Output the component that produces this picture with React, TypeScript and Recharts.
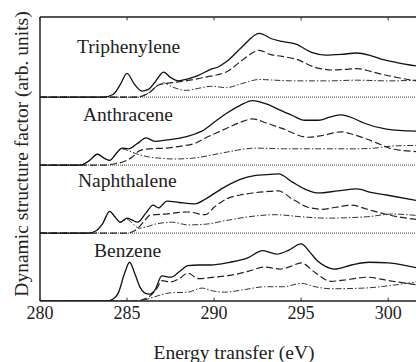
import React from 'react';
import { LineChart, Line, XAxis, YAxis, ReferenceLine } from 'recharts';

// energy (eV), intensity (arb. units) per panel; panel offset added later
const triphSolid = [
  [280, 0], [283.6, 0], [284.2, 0.04], [284.6, 0.18], [285.0, 0.35], [285.4, 0.2], [285.85, 0.09], [286.2, 0.11],
  [286.6, 0.22], [287.1, 0.37], [287.5, 0.29], [287.95, 0.24], [288.5, 0.27], [289.1, 0.32], [289.8, 0.41],
  [290.2, 0.44], [290.7, 0.52], [291.6, 0.74], [292.6, 0.94], [293.3, 0.86], [293.9, 0.82], [294.7, 0.78],
  [295.6, 0.66], [296.4, 0.62], [297.3, 0.63], [298.2, 0.65], [299.0, 0.61], [299.6, 0.56], [300.5, 0.51], [301.6, 0.46],
];
const triphDashed = [
  [280, 0], [285.5, 0], [285.9, 0.02], [286.3, 0.07], [286.8, 0.18], [287.2, 0.2], [287.8, 0.22], [288.6, 0.25],
  [289.6, 0.3], [290.2, 0.33], [290.7, 0.37], [291.6, 0.54], [292.6, 0.69], [293.2, 0.63], [293.9, 0.6],
  [294.7, 0.56], [295.8, 0.44], [296.8, 0.4], [297.5, 0.41], [298.2, 0.42], [299.0, 0.38], [299.6, 0.34],
  [300.5, 0.29], [301.6, 0.24],
];
const triphDashDot = [
  [280, 0], [285.6, 0], [286.1, 0.04], [286.6, 0.14], [287.1, 0.21], [287.6, 0.15], [288.4, 0.1], [289.1, 0.13],
  [289.8, 0.16], [290.3, 0.15], [290.7, 0.14], [291.6, 0.2], [292.6, 0.26], [293.5, 0.25], [294.5, 0.24],
  [296.5, 0.24], [298.2, 0.25], [300.0, 0.24], [301.6, 0.25],
];

const anthSolid = [
  [280, 0], [282.3, 0], [282.8, 0.06], [283.3, 0.16], [283.7, 0.1], [284.0, 0.07], [284.4, 0.18], [284.7, 0.25],
  [285.1, 0.24], [285.6, 0.32], [286.1, 0.4], [286.6, 0.35], [287.3, 0.37], [288.1, 0.4], [288.7, 0.44],
  [289.3, 0.5], [290.1, 0.65], [290.7, 0.76], [291.5, 0.88], [292.2, 0.95], [293.0, 0.9], [293.7, 0.82],
  [294.5, 0.73], [295.2, 0.66], [296.0, 0.66], [296.7, 0.71], [297.3, 0.74], [298.0, 0.69], [298.6, 0.62],
  [299.9, 0.53], [301.6, 0.5],
];
const anthDashed = [
  [280, 0], [283.5, 0], [284.3, 0.02], [284.9, 0.06], [285.3, 0.12], [285.7, 0.21], [286.25, 0.24], [287.2, 0.25],
  [288.1, 0.28], [288.9, 0.32], [289.5, 0.4], [290.1, 0.47], [290.7, 0.54], [291.5, 0.63], [292.2, 0.68],
  [293.0, 0.62], [293.9, 0.54], [295.4, 0.41], [296.3, 0.44], [297.3, 0.49], [298.0, 0.45], [298.8, 0.38],
  [299.6, 0.3], [300.2, 0.24], [301.6, 0.2],
];
const anthDashDot = [
  [280, 0], [282.3, 0], [282.8, 0.06], [283.3, 0.16], [283.7, 0.1], [284.0, 0.07], [284.4, 0.17], [284.7, 0.24],
  [285.1, 0.21], [285.5, 0.17], [286.25, 0.12], [287.0, 0.1], [287.6, 0.09], [288.7, 0.1], [289.7, 0.14],
  [290.7, 0.19], [292.4, 0.25], [294.0, 0.24], [296.0, 0.24], [298.0, 0.24], [299.2, 0.25], [300.2, 0.28], [301.6, 0.29],
];

const naphSolid = [
  [280, 0], [282.8, 0], [283.2, 0.03], [283.6, 0.14], [284.0, 0.32], [284.3, 0.24], [284.6, 0.16], [285.0, 0.22],
  [285.3, 0.19], [285.6, 0.16], [286.1, 0.3], [286.5, 0.41], [286.8, 0.37], [287.3, 0.47], [288.0, 0.45],
  [288.9, 0.43], [289.5, 0.5], [290.0, 0.58], [290.7, 0.69], [291.5, 0.79], [292.4, 0.85], [293.0, 0.86],
  [293.7, 0.87], [294.5, 0.75], [295.2, 0.65], [296.0, 0.59], [297.1, 0.62], [298.2, 0.65], [299.0, 0.6],
  [299.9, 0.56], [301.6, 0.48],
];
const naphDashed = [
  [280, 0], [285.0, 0], [285.4, 0.03], [285.7, 0.09], [286.0, 0.18], [286.3, 0.26], [287.2, 0.28], [288.5, 0.31],
  [289.5, 0.27], [290.0, 0.38], [290.7, 0.5], [291.5, 0.56], [292.2, 0.59], [293.0, 0.61], [293.7, 0.62],
  [294.5, 0.5], [295.4, 0.38], [296.2, 0.35], [297.0, 0.38], [297.9, 0.41], [298.8, 0.35], [299.8, 0.28], [301.6, 0.2],
];
const naphDashDot = [
  [280, 0], [282.8, 0], [283.2, 0.03], [283.6, 0.14], [284.0, 0.32], [284.3, 0.24], [284.6, 0.16], [285.0, 0.2],
  [285.4, 0.12], [285.7, 0.07], [286.1, 0.09], [286.6, 0.13], [287.6, 0.16], [288.5, 0.12], [289.5, 0.13],
  [290.6, 0.18], [292.0, 0.24], [293.5, 0.27], [295.0, 0.24], [296.4, 0.22], [298.8, 0.24], [300.2, 0.28], [301.6, 0.26],
];

const benzSolid = [
  [280, 0], [283.8, 0], [284.2, 0.03], [284.5, 0.12], [284.85, 0.4], [285.15, 0.57], [285.45, 0.4], [285.75, 0.2],
  [286.0, 0.12], [286.3, 0.1], [286.6, 0.16], [287.0, 0.37], [287.5, 0.35], [288.0, 0.43], [288.5, 0.52],
  [289.1, 0.53], [289.8, 0.53], [290.9, 0.57], [291.9, 0.63], [292.8, 0.74], [293.6, 0.69], [294.3, 0.75],
  [295.0, 0.84], [295.5, 0.72], [295.9, 0.6], [296.4, 0.51], [296.9, 0.47], [297.9, 0.53], [298.9, 0.57],
  [300.0, 0.56], [301.6, 0.49],
];
const benzDashed = [
  [280, 0], [285.5, 0], [285.9, 0.02], [286.3, 0.07], [286.7, 0.18], [287.0, 0.3], [287.5, 0.28], [288.0, 0.33],
  [288.5, 0.41], [289.1, 0.33], [290.0, 0.35], [291.0, 0.38], [292.0, 0.44], [292.9, 0.5], [293.8, 0.47],
  [294.4, 0.51], [295.0, 0.56], [295.8, 0.42], [296.7, 0.29], [297.8, 0.32], [298.8, 0.35], [300.0, 0.3], [301.6, 0.24],
];
const benzDashDot = [
  [280, 0], [285.6, 0], [286.2, 0.03], [286.8, 0.08], [287.5, 0.12], [288.5, 0.13], [289.3, 0.19], [289.9, 0.15],
  [290.6, 0.13], [291.8, 0.17], [292.9, 0.21], [294.0, 0.21], [295.0, 0.26], [295.8, 0.21], [296.7, 0.18],
  [298.6, 0.19], [300.2, 0.23], [301.6, 0.28],
];

const molecules = ['Benzene', 'Naphthalene', 'Anthracene', 'Triphenylene'];
const panelOffsets = [0, 1, 2, 3];
const solids = [benzSolid, naphSolid, anthSolid, triphSolid];
const dasheds = [benzDashed, naphDashed, anthDashed, triphDashed];
const dashDots = [benzDashDot, naphDashDot, anthDashDot, triphDashDot];
const xTicks = [280, 285, 290, 295, 300];
const Y_MAX = 4.18;
const X_MAX = 301.6;

const FONT = '"Liberation Serif", "DejaVu Serif", serif';

const toRows = (pts: number[][], off: number) => pts.map(([x, y]) => ({ x, y: y + off }));

// label anchors (pixels)
const labelPos = [
  { x: 94, y: 257 },
  { x: 78, y: 187 },
  { x: 83, y: 121 },
  { x: 77, y: 53 },
];

export default function App() {
  return (
    <div style={{ position: 'absolute', left: 0, top: 0, width: 416, height: 362, background: '#fff' }}>
      <LineChart width={416} height={362} margin={{ top: 17, right: 0, bottom: 31, left: 40 }}>
        <XAxis
          type="number"
          dataKey="x"
          domain={[280, X_MAX]}
          ticks={xTicks}
          allowDataOverflow
          height={30}
          tickLine={false}
          tickSize={3}
          tickMargin={2}
          axisLine={{ stroke: '#222', strokeWidth: 1.6 }}
          tick={{ fontFamily: FONT, fontSize: 18, fill: '#222' }}
          label={{ value: 'Energy transfer (eV)', position: 'bottom', offset: 14, dx: 6, style: { fontFamily: FONT, fontSize: 19.5, fill: '#222' } }}
        />
        <YAxis type="number" domain={[0, Y_MAX]} hide allowDataOverflow />

        {panelOffsets.slice(1).map((o) => (
          <ReferenceLine key={'b' + o} y={o} stroke="#666" strokeWidth={1.2} strokeDasharray="1 1" />
        ))}
        <ReferenceLine y={Y_MAX} stroke="#555" strokeWidth={2.2} />
        <ReferenceLine x={280} stroke="#333" strokeWidth={1.6} />
        {xTicks.map((t) => (
          <ReferenceLine key={'bt' + t} segment={[{ x: t, y: 0 }, { x: t, y: 0.05 }]} stroke="#333" />
        ))}
        {xTicks.map((t) => (
          <ReferenceLine key={'tt' + t} segment={[{ x: t, y: Y_MAX }, { x: t, y: Y_MAX - 0.05 }]} stroke="#333" />
        ))}

        {panelOffsets.map((o, i) => (
          <Line key={'dd' + i} data={toRows(dashDots[i], o)} dataKey="y" type="monotone" dot={false}
            stroke="#333" strokeWidth={1} strokeDasharray="6 2 1.5 2" isAnimationActive={false} />
        ))}
        {panelOffsets.map((o, i) => (
          <Line key={'da' + i} data={toRows(dasheds[i], o)} dataKey="y" type="monotone" dot={false}
            stroke="#222" strokeWidth={1.2} strokeDasharray="7 3" isAnimationActive={false} />
        ))}
        {panelOffsets.map((o, i) => (
          <Line key={'so' + i} data={toRows(solids[i], o)} dataKey="y" type="monotone" dot={false}
            stroke="#111" strokeWidth={1.3} isAnimationActive={false} />
        ))}

        {molecules.map((m, i) => (
          <text key={m} x={labelPos[i].x} y={labelPos[i].y} fontFamily={FONT} fontSize={19.5} fill="#222">{m}</text>
        ))}
        <text x={21} y={154} transform="rotate(-90, 21, 154)" textAnchor="middle" dominantBaseline="central"
          fontFamily={FONT} fontSize={19.5} fill="#222">
          Dynamic structure factor (arb. units)
        </text>
      </LineChart>
    </div>
  );
}
